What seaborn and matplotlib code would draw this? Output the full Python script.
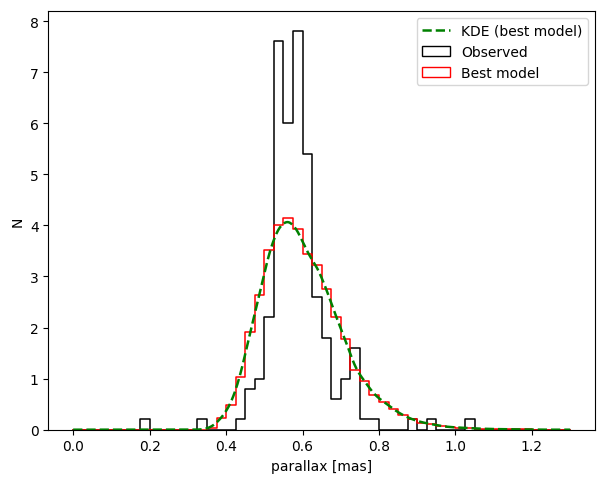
import numpy as np
import pandas as pd
import matplotlib
matplotlib.use("Agg")
import matplotlib.pyplot as plt
import seaborn as sns
from matplotlib.patches import Patch
from matplotlib.lines import Line2D

# ---- data ----
bin_width = 0.025
hist_range = (0.0, 1.3)

# observed sample: counts per bin (bin left edges), 200 stars in total
obs_bin_left = [0.175, 0.325, 0.425, 0.45, 0.475, 0.5, 0.525, 0.55, 0.575, 0.6,
                0.625, 0.65, 0.675, 0.7, 0.725, 0.75, 0.775, 0.875, 0.925, 1.025]
obs_counts = [1, 1, 1, 4, 5, 11, 38, 30, 39, 27,
              13, 9, 3, 5, 8, 1, 1, 1, 1, 1]

# best model: density per bin (bin left edges)
model_bin_left = [0.35, 0.375, 0.4, 0.425, 0.45, 0.475, 0.5, 0.525, 0.55, 0.575,
                  0.6, 0.625, 0.65, 0.675, 0.7, 0.725, 0.75, 0.775, 0.8, 0.825,
                  0.85, 0.875, 0.9, 0.925, 0.95, 0.975, 1.0, 1.025, 1.05, 1.075,
                  1.1, 1.125, 1.15, 1.175]
model_density = [0.04, 0.22, 0.48, 1.03, 1.91, 2.63, 3.51, 4.00, 4.14, 3.93,
                 3.44, 3.22, 2.76, 2.20, 1.78, 1.17, 0.96, 0.67, 0.55, 0.40,
                 0.28, 0.20, 0.14, 0.11, 0.07, 0.05, 0.04, 0.03, 0.02, 0.015,
                 0.01, 0.01, 0.005, 0.005]

xticks = [0.0, 0.2, 0.4, 0.6, 0.8, 1.0, 1.2]
yticks = [0, 1, 2, 3, 4, 5, 6, 7, 8]

# ---- tables ----
obs = pd.DataFrame({"x": np.array(obs_bin_left) + bin_width / 2, "w": obs_counts})
mod = pd.DataFrame({"x": np.array(model_bin_left) + bin_width / 2, "w": model_density})

fig = plt.figure(figsize=(5.97, 4.81), dpi=100)
ax = fig.add_axes([48.3 / 597, 1 - 430.7 / 481, (595 - 48.3) / 597, (430.7 - 12.3) / 481])

sns.histplot(data=obs, x="x", weights="w", binwidth=bin_width, binrange=hist_range,
             stat="density", element="step", fill=False, color="black",
             linewidth=1.1, ax=ax)
sns.histplot(data=mod, x="x", weights="w", binwidth=bin_width, binrange=hist_range,
             stat="density", element="step", fill=False, color="red",
             linewidth=1.1, ax=ax)
sns.kdeplot(data=mod, x="x", weights="w", bw_method=0.15, cut=300,
            clip=hist_range, gridsize=600, color="green", linestyle="--",
            linewidth=1.8, ax=ax)

ax.set_xticks(xticks)
ax.set_yticks(yticks)
ax.set_xlabel("parallax [mas]")
ax.set_ylabel("N")
ax.margins(x=0.05)
ax.set_ylim(0, 8.19)

handles = [
    Line2D([], [], color="green", linestyle="--", linewidth=1.8),
    Patch(facecolor="none", edgecolor="black"),
    Patch(facecolor="none", edgecolor="red"),
]
ax.legend(handles, ["KDE (best model)", "Observed", "Best model"], loc="upper right")

fig.savefig("out.png", dpi=100)
